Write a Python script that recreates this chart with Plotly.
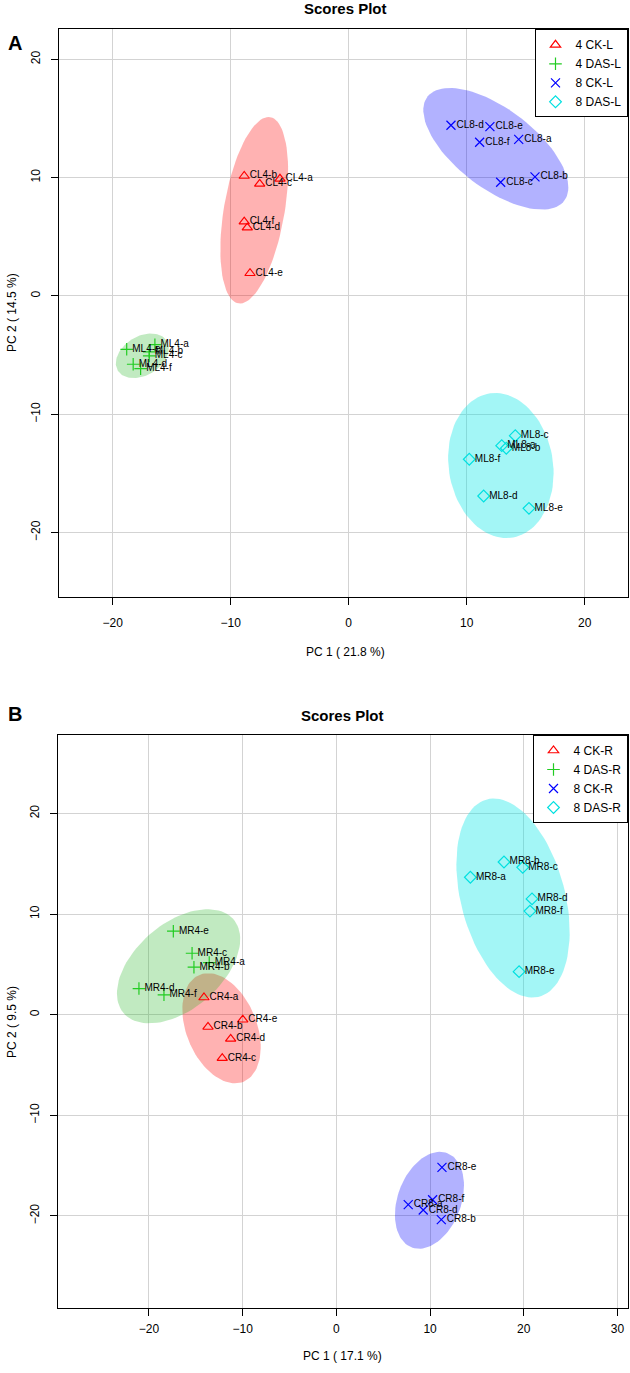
import numpy as np
import plotly.graph_objects as go

# ---------------- Panel A data ----------------
A_names = ["4 CK-L", "4 DAS-L", "8 CK-L", "8 DAS-L"]
A_CL4_lab = ["CL4-a", "CL4-b", "CL4-c", "CL4-d", "CL4-e", "CL4-f"]
A_CL4_x = [-5.82, -8.85, -7.54, -8.59, -8.36, -8.85]
A_CL4_y = [9.90, 10.14, 9.47, 5.77, 1.92, 6.28]

A_ML4_lab = ["ML4-a", "ML4-b", "ML4-c", "ML4-d", "ML4-e", "ML4-f"]
A_ML4_x = [-16.42, -16.90, -16.90, -18.26, -18.81, -17.63]
A_ML4_y = [-4.12, -4.73, -5.07, -5.77, -4.51, -6.14]

A_CL8_lab = ["CL8-a", "CL8-b", "CL8-c", "CL8-d", "CL8-e", "CL8-f"]
A_CL8_x = [14.41, 15.79, 12.88, 8.67, 11.97, 11.10]
A_CL8_y = [13.24, 10.06, 9.61, 14.43, 14.31, 12.99]

A_ML8_lab = ["ML8-a", "ML8-b", "ML8-c", "ML8-d", "ML8-e", "ML8-f"]
A_ML8_x = [12.97, 13.36, 14.12, 11.44, 15.28, 10.22]
A_ML8_y = [-12.65, -12.87, -11.81, -16.91, -17.95, -13.80]

# ---------------- Panel B data ----------------
B_names = ["4 CK-R", "4 DAS-R", "8 CK-R", "8 DAS-R"]
B_CR4_lab = ["CR4-a", "CR4-b", "CR4-c", "CR4-d", "CR4-e"]
B_CR4_x = [-14.13, -13.70, -12.18, -11.28, -9.99]
B_CR4_y = [1.71, -1.22, -4.32, -2.40, -0.50]

B_MR4_lab = ["MR4-a", "MR4-b", "MR4-c", "MR4-d", "MR4-e", "MR4-f"]
B_MR4_x = [-13.57, -15.20, -15.40, -21.07, -17.40, -18.40]
B_MR4_y = [5.18, 4.72, 6.11, 2.60, 8.30, 1.98]

B_CR8_lab = ["CR8-a", "CR8-b", "CR8-d", "CR8-e", "CR8-f"]
B_CR8_x = [7.67, 11.20, 9.27, 11.27, 10.27]
B_CR8_y = [-18.88, -20.37, -19.41, -15.18, -18.39]

B_MR8_lab = ["MR8-a", "MR8-b", "MR8-c", "MR8-d", "MR8-e", "MR8-f"]
B_MR8_x = [14.30, 17.89, 19.89, 20.88, 19.50, 20.66]
B_MR8_y = [13.66, 15.18, 14.65, 11.51, 4.28, 10.30]

# tick values
A_xticks = [-20, -10, 0, 10, 20]
A_yticks = [-20, -10, 0, 10, 20]
B_xticks = [-20, -10, 0, 10, 20, 30]
B_yticks = [-20, -10, 0, 10, 20]

# styles
COLORS = ["#FF0000", "#22CC22", "#0000FF", "#00E0E0"]
FILLS = ["rgba(255,0,0,0.30)", "rgba(34,180,34,0.28)", "rgba(0,0,255,0.30)", "rgba(0,230,230,0.36)"]
SYMBOLS = ["triangle-up-open", "cross-thin-open", "x-thin-open", "diamond-open"]
FONT = "Liberation Sans, Arial, sans-serif"
PAD = "\u00a0\u00a0"


def ellipse(xs, ys, level_t=np.sqrt(5.991464547107979), n=100):
    pts = np.column_stack([xs, ys])
    c = pts.mean(axis=0)
    cov = np.cov(pts, rowvar=False)
    vals, vecs = np.linalg.eigh(cov)
    t = np.linspace(0, 2 * np.pi, n)
    circ = np.column_stack([np.cos(t), np.sin(t)])
    e = circ * np.sqrt(vals) * level_t
    e = e @ vecs.T + c
    return e[:, 0], e[:, 1]


fig = go.Figure()


def add_panel(groups, names, xa, ya, legend):
    # ellipses first
    for i, (xs, ys, lab) in enumerate(groups):
        ex, ey = ellipse(xs, ys)
        fig.add_trace(go.Scatter(x=ex, y=ey, mode="lines", fill="toself",
                                 fillcolor=FILLS[i], line=dict(width=0),
                                 hoverinfo="skip", showlegend=False,
                                 xaxis=xa, yaxis=ya))
    for i, (xs, ys, lab) in enumerate(groups):
        fig.add_trace(go.Scatter(x=xs, y=ys, mode="markers", name=names[i],
                                 marker=dict(symbol=SYMBOLS[i], size=9, color=COLORS[i],
                                             line=dict(width=1.2, color=COLORS[i])),
                                 xaxis=xa, yaxis=ya, legend=legend))
        fig.add_trace(go.Scatter(x=xs, y=ys, mode="text", text=[PAD + s for s in lab],
                                 textposition="middle right",
                                 textfont=dict(family=FONT, size=10, color="black"),
                                 showlegend=False, hoverinfo="skip",
                                 xaxis=xa, yaxis=ya))


add_panel([(A_CL4_x, A_CL4_y, A_CL4_lab),
           (A_ML4_x, A_ML4_y, A_ML4_lab),
           (A_CL8_x, A_CL8_y, A_CL8_lab),
           (A_ML8_x, A_ML8_y, A_ML8_lab)],
          A_names, "x", "y", "legend")
add_panel([(B_CR4_x, B_CR4_y, B_CR4_lab),
           (B_MR4_x, B_MR4_y, B_MR4_lab),
           (B_CR8_x, B_CR8_y, B_CR8_lab),
           (B_MR8_x, B_MR8_y, B_MR8_lab)],
          B_names, "x2", "y2", "legend2")

H = 1373.0
W = 630.0


def py(p):
    return 1 - p / H


def px(p):
    return p / W


axis_common = dict(showline=True, mirror=True, linecolor="black", linewidth=1,
                   showgrid=True, gridcolor="#D3D3D3", gridwidth=1, zeroline=False,
                   ticks="outside", ticklen=7, tickcolor="black",
                   tickfont=dict(family=FONT, size=12, color="black"))

fig.update_layout(
    width=630, height=1373,
    margin=dict(l=0, r=0, t=0, b=0),
    paper_bgcolor="white", plot_bgcolor="white",
    xaxis=dict(domain=[px(59.2), px(627.5)], range=[-24.53, 23.63], tickvals=A_xticks,
               anchor="y", ticklabelstandoff=7, **axis_common),
    yaxis=dict(domain=[py(597.3), py(29.3)], range=[-25.47, 22.54], tickvals=A_yticks,
               anchor="x", tickangle=-90, ticklabelstandoff=6, **axis_common),
    xaxis2=dict(domain=[px(57.7), px(627.5)], range=[-29.74, 31.07], tickvals=B_xticks,
                anchor="y2", ticklabelstandoff=3, **axis_common),
    yaxis2=dict(domain=[py(1308), py(735)], range=[-29.15, 27.8], tickvals=B_yticks,
                anchor="x2", tickangle=-90, ticklabelstandoff=6, **axis_common),
    legend=dict(x=px(627.5), y=py(29.3), xanchor="right", yanchor="top",
                bordercolor="black", borderwidth=1, bgcolor="white",
                font=dict(family=FONT, size=12, color="black"),
                itemwidth=30, tracegroupgap=0),
    legend2=dict(x=px(627.5), y=py(735), xanchor="right", yanchor="top",
                 bordercolor="black", borderwidth=1, bgcolor="white",
                 font=dict(family=FONT, size=12, color="black"),
                 itemwidth=30, tracegroupgap=0),
    showlegend=True,
)

ann = []


def add_ann(text, x, y, size, bold=False, angle=0):
    ann.append(dict(text=("<b>%s</b>" % text) if bold else text,
                    x=px(x), y=py(y), xref="paper", yref="paper",
                    xanchor="center", yanchor="middle", showarrow=False,
                    textangle=angle,
                    font=dict(family=FONT, size=size, color="black")))


add_ann("A", 15, 43, 20, bold=True)
add_ann("Scores Plot", 345, 9, 15, bold=True)
add_ann("PC 1 ( 21.8 %)", 345, 652, 12)
add_ann("PC 2 ( 14.5 %)", 12, 313, 12, angle=-90)
add_ann("B", 15, 714, 20, bold=True)
add_ann("Scores Plot", 343, 716, 15, bold=True)
add_ann("PC 1 ( 17.1 %)", 343, 1356, 12)
add_ann("PC 2 ( 9.5 %)", 12, 1022, 12, angle=-90)
fig.update_layout(annotations=ann)

fig.write_html("out.html", config={"displayModeBar": False},
               post_script="document.body.style.margin='0px';"
                           "document.body.style.overflow='hidden';")
